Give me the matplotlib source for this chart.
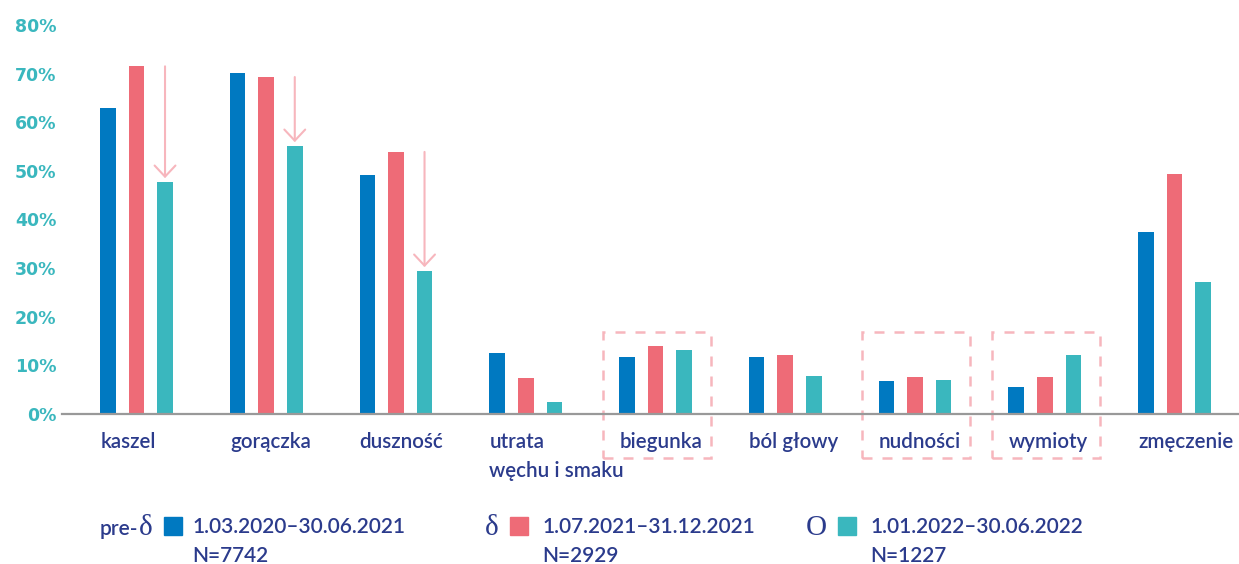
import numpy as np
import matplotlib.pyplot as plt
from matplotlib.patches import Rectangle

# Symptoms share (%) by variant period
categories = ["kaszel", "gorączka", "duszność", "utrata\nwęchu i smaku", "biegunka",
              "ból głowy", "nudności", "wymioty", "zmęczenie"]
pre_delta = [62.9, 70.1, 49.2, 12.6, 11.8, 11.8, 6.7, 5.5, 37.4]
delta = [71.5, 69.3, 53.9, 7.4, 14.0, 12.2, 7.6, 7.6, 49.4]
omicron = [47.7, 55.1, 29.4, 2.4, 13.1, 7.8, 6.9, 12.2, 27.2]
yticks = [0, 10, 20, 30, 40, 50, 60, 70, 80]
arrow_idx = [0, 1, 2]
boxed_idx = [4, 6, 7]

legend_symbols = ["δ", "δ", "O"]
legend_prefix = ["pre-", "", ""]
legend_dates = ["1.03.2020–30.06.2021", "1.07.2021–31.12.2021", "1.01.2022–30.06.2022"]
legend_n = ["N=7742", "N=2929", "N=1227"]

BLUE = "#0079C1"
RED = "#EE6B77"
TEAL = "#3AB7BE"
PINK = "#F7B6BD"
NAVY = "#2B3B8C"

fig = plt.figure(figsize=(12.39, 5.64), dpi=100)
ax = fig.add_axes([62 / 1239, 1 - 414 / 564, 1177 / 1239, 389 / 564])

x = np.arange(len(categories))
w = 0.12
off = 0.22
ax.bar(x - off, pre_delta, w, color=BLUE, zorder=3)
ax.bar(x, delta, w, color=RED, zorder=3)
ax.bar(x + off, omicron, w, color=TEAL, zorder=3)

ax.set_xlim(-0.574, 8.497)
ax.set_ylim(0, 80)
ax.set_yticks(yticks)
ax.set_yticklabels([f"{v}%" for v in yticks], color=TEAL, fontsize=12.5,
                   fontweight="bold", family="DejaVu Sans")
ax.set_xticks([])
ax.tick_params(axis="y", length=0, pad=4)
for s in ["top", "right", "left"]:
    ax.spines[s].set_visible(False)
ax.spines["bottom"].set_color("#999999")
ax.spines["bottom"].set_linewidth(1.6)
ax.spines["bottom"].set_zorder(4)

# category labels, left aligned with the first bar
for i, lab in enumerate(categories):
    for j, line in enumerate(lab.split("\n")):
        ax.text(i - off - w / 2, -7.0 - 6.0 * j, line, ha="left", va="baseline",
                fontsize=14.8, family="Lato", fontweight="semibold", color=NAVY,
                clip_on=False)

# arrows showing the drop for omicron
for i in arrow_idx:
    ax.annotate("", xy=(i + off, omicron[i] + 0.8), xytext=(i + off, delta[i]),
                arrowprops=dict(arrowstyle="->,head_length=0.8,head_width=0.75",
                                color=PINK, lw=1.5, shrinkA=0, shrinkB=0), zorder=5)

# dashed boxes around highlighted symptoms
for i in boxed_idx:
    ax.add_patch(Rectangle((i - 0.407, -9.0), 0.832, 25.9, fill=False,
                           edgecolor=PINK, lw=1.8, linestyle=(0, (4, 4)),
                           clip_on=False, zorder=2))

# legend
sym_x = [139, 485, 806]
sq_x = [164, 510, 838]
txt_x = [192, 542, 870]
colors = [BLUE, RED, TEAL]
for k in range(3):
    if legend_prefix[k]:
        fig.text(100 / 1239, 1 - 535 / 564, legend_prefix[k], fontsize=15,
                 family="Lato", fontweight="semibold", color=NAVY,
                 va="baseline", ha="left")
    fig.text(sym_x[k] / 1239, 1 - 535 / 564, legend_symbols[k], fontsize=21,
             family="Liberation Serif", color=NAVY, va="baseline", ha="left")
    fig.patches.append(Rectangle((sq_x[k] / 1239, 1 - 535 / 564), 18 / 1239, 18 / 564,
                                 transform=fig.transFigure, color=colors[k]))
    fig.text(txt_x[k] / 1239, 1 - 533 / 564, legend_dates[k], fontsize=15,
             family="Lato", fontweight="semibold", color=NAVY,
             va="baseline", ha="left")
    fig.text(txt_x[k] / 1239, 1 - 562 / 564, legend_n[k], fontsize=15,
             family="Lato", fontweight="semibold", color=NAVY,
             va="baseline", ha="left")

fig.savefig("out.png", dpi=100)
